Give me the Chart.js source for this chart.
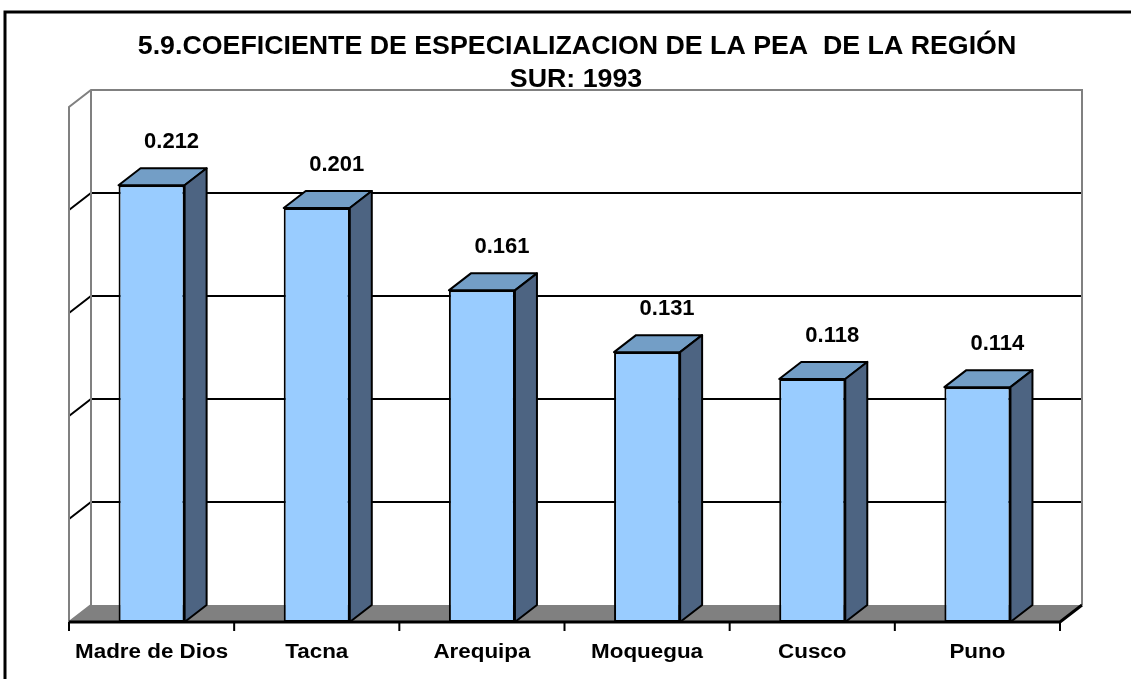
<!DOCTYPE html>
<html>
<head>
<meta charset="utf-8">
<script src="https://cdn.jsdelivr.net/npm/chart.js@4/dist/chart.umd.min.js"></script>
<style>
  html, body { margin: 0; padding: 0; background: #fff; }
  canvas { display: block; }
</style>
</head>
<body>
<canvas id="grafico" width="1131" height="679"></canvas>
<script>
// datos del gráfico
const titulo = ['5.9.COEFICIENTE DE ESPECIALIZACION DE LA PEA  DE LA REGIÓN', 'SUR: 1993'];
const regiones = ['Madre de Dios', 'Tacna', 'Arequipa', 'Moquegua', 'Cusco', 'Puno'];
const coeficientes = [0.212, 0.201, 0.161, 0.131, 0.118, 0.114];
const marcasY = [0.05, 0.10, 0.15, 0.20];

// profundidad del efecto 3D
const DX = 22, DY = 17;
const FUENTE = '"Liberation Sans", Arial, sans-serif';

function textoAncho(ctx, txt, x, y, escala) {
    ctx.save();
    ctx.translate(x, y);
    ctx.scale(escala, 1);
    ctx.fillText(txt, 0, 0);
    ctx.restore();
}

const pluginParedes = {
    id: 'paredes3d',
    beforeDatasetsDraw(chart) {
        const ctx = chart.ctx;
        const { left, right, top, bottom } = chart.chartArea;
        const ys = chart.scales.y;
        const xs = chart.scales.x;
        ctx.save();

        // marco exterior
        ctx.strokeStyle = '#000';
        ctx.lineWidth = 3;
        ctx.strokeRect(5, 12, 1140, 700);

        // piso
        ctx.fillStyle = '#808080';
        ctx.beginPath();
        ctx.moveTo(left, bottom);
        ctx.lineTo(right, bottom);
        ctx.lineTo(right + DX, bottom - DY);
        ctx.lineTo(left + DX, bottom - DY);
        ctx.closePath();
        ctx.fill();

        // lineas de division (pared del fondo y pared izquierda)
        ctx.strokeStyle = '#000';
        ctx.lineWidth = 2;
        marcasY.forEach(v => {
            const yf = ys.getPixelForValue(v);
            ctx.beginPath();
            ctx.moveTo(left, yf);
            ctx.lineTo(left + DX, yf - DY);
            ctx.lineTo(right + DX, yf - DY);
            ctx.stroke();
        });

        // bordes grises de las paredes
        ctx.strokeStyle = '#808080';
        ctx.lineWidth = 2;
        ctx.beginPath();
        ctx.moveTo(left, bottom);
        ctx.lineTo(left, top);
        ctx.lineTo(left + DX, top - DY);
        ctx.lineTo(right + DX, top - DY);
        ctx.lineTo(right + DX, bottom - DY);
        ctx.moveTo(left + DX, top - DY);
        ctx.lineTo(left + DX, bottom - DY);
        ctx.moveTo(left, bottom);
        ctx.lineTo(left + DX, bottom - DY);
        ctx.stroke();

        // borde frontal del piso y marcas
        ctx.strokeStyle = '#000';
        ctx.lineWidth = 3;
        ctx.beginPath();
        ctx.moveTo(left, bottom);
        ctx.lineTo(right, bottom);
        ctx.lineTo(right + DX, bottom - DY);
        ctx.stroke();
        const paso = xs.getPixelForValue(1) - xs.getPixelForValue(0);
        ctx.lineWidth = 2;
        ctx.beginPath();
        for (let i = 0; i <= regiones.length; i++) {
            const x = xs.getPixelForValue(0) - paso / 2 + i * paso;
            ctx.moveTo(x, bottom);
            ctx.lineTo(x, bottom + 9);
        }
        ctx.stroke();
        ctx.restore();
    },
    afterDatasetsDraw(chart) {
        const ctx = chart.ctx;
        const meta = chart.getDatasetMeta(0);
        ctx.save();
        ctx.strokeStyle = '#000';
        ctx.lineWidth = 2;
        ctx.lineJoin = 'round';
        meta.data.forEach((barra, i) => {
            const p = barra.getProps(['x', 'y', 'base', 'width'], true);
            const L = p.x - p.width / 2, R = p.x + p.width / 2;
            // cara superior
            ctx.fillStyle = '#739EC6';
            ctx.beginPath();
            ctx.moveTo(L, p.y);
            ctx.lineTo(L + DX, p.y - DY);
            ctx.lineTo(R + DX, p.y - DY);
            ctx.lineTo(R, p.y);
            ctx.closePath();
            ctx.fill();
            ctx.stroke();
            // cara lateral
            ctx.fillStyle = '#4D6482';
            ctx.beginPath();
            ctx.moveTo(R, p.y);
            ctx.lineTo(R + DX, p.y - DY);
            ctx.lineTo(R + DX, p.base - DY);
            ctx.lineTo(R, p.base);
            ctx.closePath();
            ctx.fill();
            ctx.stroke();
            // etiqueta de valor
            ctx.fillStyle = '#000';
            ctx.font = 'bold 22px ' + FUENTE;
            ctx.textAlign = 'center';
            ctx.textBaseline = 'middle';
            ctx.fillText(coeficientes[i].toFixed(3), p.x + 20, p.y - DY - 26);
        });

        // etiquetas de categorias
        const xs = chart.scales.x;
        ctx.font = 'bold 20px ' + FUENTE;
        regiones.forEach((r, i) => {
            textoAncho(ctx, r, xs.getPixelForValue(i), 652, 1.12);
        });
        ctx.restore();
    },
    afterDraw(chart) {
        const ctx = chart.ctx;
        ctx.save();
        ctx.fillStyle = '#000';
        ctx.font = 'bold 25px ' + FUENTE;
        ctx.textAlign = 'center';
        ctx.textBaseline = 'middle';
        textoAncho(ctx, titulo[0], 577, 47, 1.07);
        textoAncho(ctx, titulo[1], 576, 80, 1.07);
        ctx.restore();
    }
};

new Chart(document.getElementById('grafico'), {
    type: 'bar',
    data: {
        labels: regiones,
        datasets: [{
            data: coeficientes,
            backgroundColor: '#99CCFF',
            borderColor: '#000',
            borderWidth: 2,
            borderSkipped: false,
            barPercentage: 0.4,
            categoryPercentage: 1.0
        }]
    },
    options: {
        responsive: false,
        devicePixelRatio: 1,
        animation: false,
        layout: { padding: { left: 69, right: 71, top: 107, bottom: 57 } },
        scales: {
            x: { display: false },
            y: { display: false, min: 0, max: 0.25 }
        },
        plugins: {
            legend: { display: false },
            tooltip: { enabled: false }
        }
    },
    plugins: [pluginParedes]
});
</script>
</body>
</html>
